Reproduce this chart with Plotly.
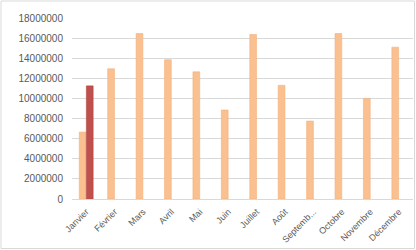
import plotly.graph_objects as go

months = ["Janvier", "Février", "Mars", "Avril", "Mai", "Juin", "Juillet",
          "Août", "Septembre", "Octobre", "Novembre", "Décembre"]
tick_labels = ["Janvier", "Février", "Mars", "Avril", "Mai", "Juin", "Juillet",
               "Août", "Septemb...", "Octobre", "Novembre", "Décembre"]
series1 = [6650000, 12950000, 16450000, 13850000, 12650000, 8850000, 16350000,
           11300000, 7750000, 16450000, 10000000, 15100000]
series2 = [11250000, None, None, None, None, None, None, None, None, None, None, None]
y_ticks = [0, 2000000, 4000000, 6000000, 8000000, 10000000, 12000000,
           14000000, 16000000, 18000000]

fig = go.Figure()
fig.add_trace(go.Bar(x=months, y=series1, marker=dict(color="#FAC090",
                     line=dict(color="#F2B07E", width=0.6))))
fig.add_trace(go.Bar(x=months, y=series2, marker=dict(color="#C0504D",
                     line=dict(color="#B04541", width=0.6))))

W, H = 416, 250
L, R, T, B = 72, 3, 18, 51
pw, ph = W - L - R, H - T - B
fig.add_shape(type="rect", xref="paper", yref="paper",
              x0=(1 - L) / pw, x1=(W - 1.5 - L) / pw,
              y0=(H - B - (H - 1.5)) / ph, y1=(H - B - 1) / ph,
              line=dict(color="#D9D9D9", width=1), fillcolor="rgba(0,0,0,0)", layer="below")

fig.update_layout(
    width=W, height=H, margin=dict(l=L, r=R, t=T, b=B),
    paper_bgcolor="white", plot_bgcolor="white",
    showlegend=False, barmode="group", bargap=0.5, bargroupgap=0.05,
    font=dict(family="Liberation Sans, Arial", size=10, color="#595959"),
    xaxis=dict(tickmode="array", tickvals=months, ticktext=tick_labels,
               tickangle=-45, tickfont=dict(size=9, color="#595959"), showgrid=False,
               showline=True, linecolor="#D9D9D9", linewidth=1, ticks="",
               ticklabelstandoff=3),
    yaxis=dict(range=[0, 18000000], tickvals=y_ticks, tickformat="d",
               tickfont=dict(size=10, color="#595959"),
               showgrid=True, gridcolor="#D9D9D9", gridwidth=1, zeroline=False,
               showline=False, ticks="", ticklabelstandoff=8),
)
fig.write_html("out.html")
